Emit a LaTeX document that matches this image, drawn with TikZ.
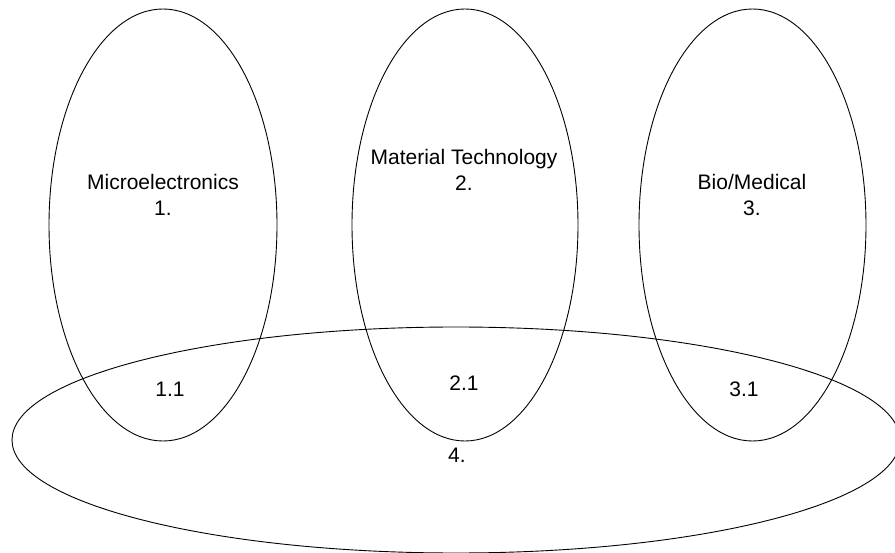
\documentclass[tikz,border=0pt]{standalone}
\usepackage{fontspec}
\setmainfont{Liberation Sans}
\usetikzlibrary{shapes.geometric}
\begin{document}
\begin{tikzpicture}[x=1pt,y=-1pt,
  oval/.style={draw=black, line width=0.9pt, ellipse, inner sep=0pt},
  lbl/.style={font=\fontsize{21}{26}\selectfont, align=center, anchor=base, inner sep=0pt}]
\useasboundingbox (0,0) rectangle (895,553);
\clip (0,0) rectangle (895,553);
\node[oval, minimum width=228pt, minimum height=432pt] (e1) at (163,225) {};
\node[oval, minimum width=226pt, minimum height=432pt] (e2) at (465,225) {};
\node[oval, minimum width=227pt, minimum height=432pt] (e3) at (752.5,225) {};
\node[oval, minimum width=888pt, minimum height=226pt] (e4) at (456,440) {};
\node[lbl] (t1) at (163,216) {Microelectronics\\1.};
\node[lbl] (t2) at (464,191) {Material Technology\\2.};
\node[lbl] (t3) at (752,216) {Bio/Medical\\3.};
\node[lbl] (t11) at (170,397) {1.1};
\node[lbl] (t21) at (464,391) {2.1};
\node[lbl] (t31) at (744,397) {3.1};
\node[lbl] (t4) at (457,462) {4.};
\end{tikzpicture}
\end{document}
